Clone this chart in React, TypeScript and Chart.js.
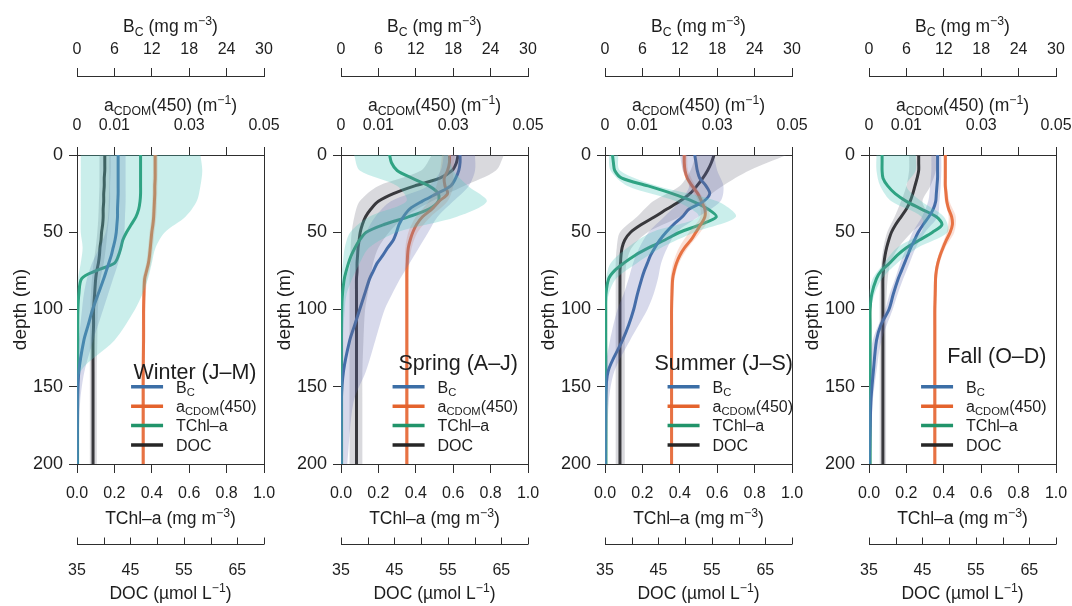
import React, { useEffect, useRef } from 'react';
import { Chart, registerables } from 'chart.js';
Chart.register(...registerables);

// ---------- data ----------
const DEPTH = [0, 5, 10, 15, 20, 25, 30, 35, 40, 45, 50, 55, 60, 65, 70, 75, 80, 90, 100, 110, 120, 140, 160, 200];
const BAND_DEPTH = [0, 10, 20, 30, 40, 50, 60, 70, 80, 90, 100, 120, 140, 160, 200];

const SEASONS = ['Winter (J–M)', 'Spring (A–J)', 'Summer (J–S)', 'Fall (O–D)'];

const DEPTH_TICKS = [0, 50, 100, 150, 200];
const BC_TICKS = [0, 6, 12, 18, 24, 30];
const ACDOM_TICKS = [0, 0.01, 0.02, 0.03, 0.04, 0.05];
const ACDOM_TICK_LABELS = ['0', '0.01', '', '0.03', '', '0.05'];
const TCHL_TICKS = [0, 0.2, 0.4, 0.6, 0.8, 1.0];
const TCHL_TICK_LABELS = ['0.0', '0.2', '0.4', '0.6', '0.8', '1.0'];
const DOC_TICKS = [35, 40, 45, 50, 55, 60, 65, 70];
const DOC_TICK_LABELS = ['35', '', '45', '', '55', '', '65', ''];

// Winter
const WINTER_BC = [6.6, 6.6, 6.6, 6.6, 6.6, 6.6, 6.55, 6.5, 6.5, 6.4, 6.3, 6.1, 5.8, 5.5, 5.1, 4.7, 4.3, 3.4, 2.5, 1.8, 1.1, 0.3, 0.1, 0.05];
const WINTER_ACDOM = [0.0209, 0.0209, 0.0209, 0.0209, 0.0208, 0.0208, 0.0207, 0.0206, 0.0205, 0.0203, 0.02, 0.0198, 0.0196, 0.0194, 0.0191, 0.0186, 0.0181, 0.0179, 0.0178, 0.0178, 0.0178, 0.0177, 0.0177, 0.0177];
const WINTER_TCHL = [0.34, 0.34, 0.34, 0.34, 0.34, 0.34, 0.337, 0.33, 0.315, 0.29, 0.265, 0.245, 0.235, 0.222, 0.2, 0.1, 0.025, 0.01, 0.005, 0.004, 0.004, 0.003, 0.003, 0.003];
const WINTER_DOC = [40.2, 40.2, 40.2, 40.1, 40.1, 40.0, 40.0, 39.9, 39.9, 39.8, 39.6, 39.5, 39.3, 39.2, 39.0, 38.7, 38.5, 38.3, 38.1, 38.1, 38.0, 38.0, 38.0, 38.0];
const WINTER_BC_LO = [5.2, 5.2, 5.2, 5.1, 5.0, 4.6, 3.6, 2.4, 1.6, 1.1, 0.8, 0.3, 0.05, 0, 0];
const WINTER_BC_HI = [7.8, 7.8, 7.8, 7.8, 7.7, 7.6, 7.2, 6.6, 5.8, 5.0, 4.2, 2.6, 1.2, 0.5, 0.2];
const WINTER_ACDOM_LO = [0.0203, 0.0203, 0.0202, 0.0201, 0.0199, 0.0194, 0.019, 0.0185, 0.0175, 0.0174, 0.0174, 0.0173, 0.0173, 0.0173, 0.0173];
const WINTER_ACDOM_HI = [0.0216, 0.0216, 0.0215, 0.0214, 0.0212, 0.0207, 0.0203, 0.0198, 0.0188, 0.0184, 0.0183, 0.0182, 0.0181, 0.0181, 0.0181];
const WINTER_TCHL_LO = [0.02, 0.02, 0.02, 0.02, 0.02, 0.02, 0.03, 0.02, 0.005, 0, 0, 0, 0, 0, 0];
const WINTER_TCHL_HI = [0.66, 0.67, 0.66, 0.64, 0.58, 0.47, 0.42, 0.4, 0.38, 0.35, 0.31, 0.2, 0.02, 0.01, 0.01];
const WINTER_DOC_LO = [39.2, 39.2, 39.2, 39.1, 39.0, 38.8, 38.5, 38.1, 37.8, 37.6, 37.5, 37.4, 37.4, 37.4, 37.4];
const WINTER_DOC_HI = [41.3, 41.3, 41.2, 41.2, 41.0, 40.7, 40.4, 40.0, 39.4, 39.1, 38.9, 38.8, 38.7, 38.7, 38.7];

// Spring
const SPRING_BC = [19.1, 19.1, 18.9, 18.4, 17.6, 15.4, 13.0, 11.0, 10.0, 9.3, 8.9, 8.4, 7.5, 6.7, 5.8, 5.2, 4.6, 3.8, 3.0, 2.2, 1.4, 0.4, 0.05, 0.02];
const SPRING_ACDOM = [0.029, 0.029, 0.0285, 0.0276, 0.0278, 0.0285, 0.0262, 0.0243, 0.0218, 0.0202, 0.0192, 0.0185, 0.018, 0.0178, 0.0177, 0.0176, 0.0176, 0.0176, 0.0176, 0.0176, 0.0176, 0.0176, 0.0176, 0.0176];
const SPRING_TCHL = [0.26, 0.27, 0.3, 0.38, 0.47, 0.52, 0.52, 0.47, 0.36, 0.23, 0.135, 0.1, 0.075, 0.055, 0.04, 0.028, 0.018, 0.008, 0.004, 0.003, 0.003, 0.003, 0.003, 0.003];
const SPRING_DOC = [56.9, 56.6, 55.8, 53.5, 48.8, 44.8, 42.0, 40.6, 39.6, 39.0, 38.6, 38.4, 38.2, 38.1, 38.0, 38.0, 37.9, 37.9, 37.9, 37.9, 37.9, 37.9, 37.9, 37.9];
const SPRING_BC_LO = [16.5, 16.0, 14.0, 8.0, 5.5, 4.0, 2.5, 1.5, 0.8, 0.5, 0.3, 0.1, 0, 0, 0];
const SPRING_BC_HI = [21.5, 21.5, 20.5, 18.0, 15.5, 14.0, 12.5, 11.0, 9.5, 8.2, 7.0, 5.5, 4.0, 2.0, 1.0];
const SPRING_ACDOM_LO = [0.027, 0.0265, 0.0255, 0.0235, 0.02, 0.018, 0.0172, 0.0171, 0.0171, 0.0171, 0.0171, 0.0171, 0.0171, 0.0171, 0.0171];
const SPRING_ACDOM_HI = [0.0305, 0.03, 0.03, 0.0285, 0.024, 0.0205, 0.0189, 0.0183, 0.0181, 0.0181, 0.0181, 0.0181, 0.0181, 0.0181, 0.0181];
const SPRING_TCHL_LO = [0.07, 0.1, 0.3, 0.35, 0.15, 0.05, 0.02, 0.01, 0, 0, 0, 0, 0, 0, 0];
const SPRING_TCHL_HI = [0.58, 0.6, 0.68, 0.78, 0.62, 0.3, 0.15, 0.1, 0.06, 0.03, 0.02, 0.01, 0.01, 0.01, 0.01];
const SPRING_DOC_LO = [52.0, 50.0, 42.0, 38.5, 37.5, 37.0, 36.8, 36.7, 36.6, 36.6, 36.6, 36.6, 36.6, 36.6, 36.6];
const SPRING_DOC_HI = [65.5, 64.0, 58.0, 52.0, 47.0, 44.0, 42.0, 41.0, 40.5, 40.0, 39.5, 39.2, 39.0, 39.0, 39.0];

// Summer
const SUMMER_BC = [14.4, 14.6, 14.8, 15.2, 16.2, 16.8, 15.8, 13.5, 12.4, 11.0, 9.8, 8.8, 8.0, 7.3, 6.8, 6.3, 5.9, 5.2, 4.6, 3.8, 2.8, 0.5, 0.1, 0.05];
const SUMMER_ACDOM = [0.0212, 0.0212, 0.0214, 0.022, 0.0233, 0.0248, 0.0258, 0.0267, 0.0267, 0.0256, 0.0243, 0.023, 0.0213, 0.02, 0.0191, 0.0185, 0.0181, 0.0179, 0.0178, 0.0178, 0.0178, 0.0178, 0.0178, 0.0178];
const SUMMER_TCHL = [0.04, 0.045, 0.052, 0.09, 0.23, 0.36, 0.47, 0.55, 0.595, 0.51, 0.4, 0.32, 0.235, 0.16, 0.1, 0.05, 0.02, 0.005, 0.004, 0.004, 0.004, 0.005, 0.005, 0.005];
const SUMMER_DOC = [55.4, 54.9, 54.2, 53.3, 52.2, 50.9, 49.0, 46.6, 44.3, 41.8, 39.8, 38.7, 38.2, 38.0, 37.9, 37.8, 37.8, 37.8, 37.8, 37.8, 37.8, 37.8, 37.8, 37.8];
const SUMMER_BC_LO = [12.0, 12.5, 13.5, 12.0, 9.5, 7.0, 5.5, 4.5, 3.8, 3.0, 2.0, 0.8, 0, 0, 0];
const SUMMER_BC_HI = [17.5, 18.0, 19.0, 18.5, 15.0, 11.5, 10.0, 9.0, 8.5, 7.8, 6.8, 4.0, 1.5, 0.6, 0.3];
const SUMMER_ACDOM_LO = [0.0205, 0.0208, 0.0225, 0.025, 0.0255, 0.0225, 0.0198, 0.0182, 0.0175, 0.0174, 0.0174, 0.0174, 0.0174, 0.0174, 0.0174];
const SUMMER_ACDOM_HI = [0.022, 0.0222, 0.0242, 0.0267, 0.028, 0.0255, 0.0222, 0.0198, 0.0186, 0.0183, 0.0182, 0.0182, 0.0182, 0.0182, 0.0182];
const SUMMER_TCHL_LO = [0.02, 0.03, 0.12, 0.38, 0.5, 0.25, 0.12, 0.03, 0.005, 0, 0, 0, 0, 0, 0];
const SUMMER_TCHL_HI = [0.07, 0.08, 0.28, 0.6, 0.7, 0.48, 0.3, 0.17, 0.06, 0.02, 0.01, 0.01, 0.01, 0.01, 0.01];
const SUMMER_DOC_LO = [52.0, 51.0, 49.0, 44.0, 41.0, 37.8, 37.2, 37.0, 37.0, 37.0, 37.0, 37.0, 37.0, 37.0, 37.0];
const SUMMER_DOC_HI = [69.0, 62.0, 57.0, 53.0, 49.0, 43.0, 40.0, 39.0, 38.8, 38.7, 38.7, 38.7, 38.7, 38.7, 38.7];

// Fall
const FALL_BC = [11.0, 11.0, 11.0, 11.0, 10.9, 10.8, 10.7, 10.3, 9.6, 8.7, 7.9, 7.3, 6.7, 6.2, 5.7, 5.2, 4.7, 3.9, 3.2, 1.9, 1.2, 0.7, 0.3, 0.05];
const FALL_ACDOM = [0.0204, 0.0204, 0.0204, 0.0204, 0.0204, 0.0206, 0.0208, 0.0213, 0.0221, 0.0223, 0.0217, 0.0207, 0.0198, 0.019, 0.0184, 0.018, 0.0178, 0.0177, 0.0176, 0.0176, 0.0176, 0.0176, 0.0176, 0.0176];
const FALL_TCHL = [0.07, 0.07, 0.07, 0.075, 0.1, 0.14, 0.2, 0.28, 0.36, 0.39, 0.34, 0.27, 0.2, 0.15, 0.11, 0.065, 0.04, 0.015, 0.006, 0.006, 0.006, 0.006, 0.006, 0.006];
const FALL_DOC = [44.3, 44.3, 44.3, 44.0, 43.6, 43.2, 42.7, 42.0, 41.0, 40.0, 39.2, 38.7, 38.3, 38.0, 37.8, 37.7, 37.6, 37.6, 37.6, 37.6, 37.6, 37.6, 37.6, 37.6];
const FALL_BC_LO = [10.0, 10.0, 9.8, 9.5, 8.5, 7.0, 6.0, 5.0, 4.2, 3.3, 2.6, 0.6, 0.2, 0, 0];
const FALL_BC_HI = [11.6, 11.6, 11.5, 11.3, 11.0, 9.0, 7.5, 6.5, 5.5, 4.6, 3.8, 2.0, 1.2, 0.6, 0.2];
const FALL_ACDOM_LO = [0.02, 0.02, 0.02, 0.0203, 0.0213, 0.0208, 0.0192, 0.018, 0.0174, 0.0173, 0.0173, 0.0173, 0.0173, 0.0173, 0.0173];
const FALL_ACDOM_HI = [0.0208, 0.0208, 0.0209, 0.0215, 0.0232, 0.0228, 0.0204, 0.0189, 0.0182, 0.018, 0.018, 0.018, 0.018, 0.018, 0.018];
const FALL_TCHL_LO = [0.04, 0.04, 0.06, 0.12, 0.28, 0.28, 0.15, 0.08, 0.02, 0, 0, 0, 0, 0, 0];
const FALL_TCHL_HI = [0.25, 0.25, 0.2, 0.28, 0.4, 0.42, 0.26, 0.15, 0.07, 0.03, 0.01, 0.01, 0.01, 0.01, 0.01];
const FALL_DOC_LO = [42.5, 42.5, 42.0, 41.0, 39.8, 38.4, 37.7, 37.3, 37.1, 37.0, 37.0, 37.0, 37.0, 37.0, 37.0];
const FALL_DOC_HI = [47.5, 47.5, 46.5, 45.0, 46.0, 43.0, 40.5, 39.0, 38.5, 38.3, 38.2, 38.2, 38.2, 38.2, 38.2];

// ---------- styling / layout ----------
const FONT = "'Liberation Sans', Arial, Helvetica, sans-serif";
const TXT = '#1e1e1e';
const AX = '#2e2e2e';
const COL = { bc: '#3b6ea6', ac: '#e4632d', tc: '#21946a', doc: '#262626' };
const BAND = {
  bc: 'rgba(100,108,178,0.26)',
  ac: 'rgba(240,150,120,0.30)',
  tc: 'rgba(80,200,190,0.30)',
  doc: 'rgba(110,110,125,0.26)',
};
const PANEL_PITCH = 264;
const CANVAS_W = 280;
const CANVAS_H = 606;
const LEGEND_RIGHT = [-7.5, -10, 1, -9.5];
const LABEL_BASELINE = [-85, -94, -94, -101];

type Panel = {
  bc: number[]; ac: number[]; tc: number[]; doc: number[];
  bcLo: number[]; bcHi: number[]; acLo: number[]; acHi: number[];
  tcLo: number[]; tcHi: number[]; docLo: number[]; docHi: number[];
};

const PANELS: Panel[] = [
  { bc: WINTER_BC, ac: WINTER_ACDOM, tc: WINTER_TCHL, doc: WINTER_DOC, bcLo: WINTER_BC_LO, bcHi: WINTER_BC_HI, acLo: WINTER_ACDOM_LO, acHi: WINTER_ACDOM_HI, tcLo: WINTER_TCHL_LO, tcHi: WINTER_TCHL_HI, docLo: WINTER_DOC_LO, docHi: WINTER_DOC_HI },
  { bc: SPRING_BC, ac: SPRING_ACDOM, tc: SPRING_TCHL, doc: SPRING_DOC, bcLo: SPRING_BC_LO, bcHi: SPRING_BC_HI, acLo: SPRING_ACDOM_LO, acHi: SPRING_ACDOM_HI, tcLo: SPRING_TCHL_LO, tcHi: SPRING_TCHL_HI, docLo: SPRING_DOC_LO, docHi: SPRING_DOC_HI },
  { bc: SUMMER_BC, ac: SUMMER_ACDOM, tc: SUMMER_TCHL, doc: SUMMER_DOC, bcLo: SUMMER_BC_LO, bcHi: SUMMER_BC_HI, acLo: SUMMER_ACDOM_LO, acHi: SUMMER_ACDOM_HI, tcLo: SUMMER_TCHL_LO, tcHi: SUMMER_TCHL_HI, docLo: SUMMER_DOC_LO, docHi: SUMMER_DOC_HI },
  { bc: FALL_BC, ac: FALL_ACDOM, tc: FALL_TCHL, doc: FALL_DOC, bcLo: FALL_BC_LO, bcHi: FALL_BC_HI, acLo: FALL_ACDOM_LO, acHi: FALL_ACDOM_HI, tcLo: FALL_TCHL_LO, tcHi: FALL_TCHL_HI, docLo: FALL_DOC_LO, docHi: FALL_DOC_HI },
];

type Part = [string, ('sub' | 'sup')?];

function richWidth(ctx: CanvasRenderingContext2D, parts: Part[], size: number) {
  let w = 0;
  for (const [t, m] of parts) {
    ctx.font = `${m ? size * 0.7 : size}px ${FONT}`;
    w += ctx.measureText(t).width;
  }
  return w;
}

function rich(ctx: CanvasRenderingContext2D, parts: Part[], x0: number, baseline: number, size: number, align: 'left' | 'center' | 'right') {
  const w = richWidth(ctx, parts, size);
  let x = align === 'center' ? x0 - w / 2 : align === 'right' ? x0 - w : x0;
  ctx.textAlign = 'left';
  ctx.textBaseline = 'alphabetic';
  ctx.fillStyle = TXT;
  for (const [t, m] of parts) {
    const fs = m ? size * 0.7 : size;
    ctx.font = `${fs}px ${FONT}`;
    const dy = m === 'sub' ? size * 0.22 : m === 'sup' ? -size * 0.42 : 0;
    ctx.fillText(t, x, baseline + dy);
    x += ctx.measureText(t).width;
  }
  return w;
}

function makeDecor(idx: number) {
  return {
    id: 'decor' + idx,
    afterDraw(chart: any) {
      const ctx: CanvasRenderingContext2D = chart.ctx;
      const ca = chart.chartArea;
      ctx.save();
      // right border of the box
      ctx.strokeStyle = AX;
      ctx.lineWidth = 1;
      const rx = Math.round(ca.right) + 0.5;
      ctx.beginPath();
      ctx.moveTo(rx, ca.top);
      ctx.lineTo(rx, ca.bottom);
      ctx.stroke();

      // DOC axis: line with upward ticks
      const sd = chart.scales.xD;
      const yl = Math.round(sd.top + 10) + 0.5;
      ctx.beginPath();
      ctx.moveTo(sd.getPixelForValue(DOC_TICKS[0]), yl);
      ctx.lineTo(sd.getPixelForValue(DOC_TICKS[DOC_TICKS.length - 1]), yl);
      for (const t of sd.ticks) {
        const x = Math.round(sd.getPixelForValue(t.value)) + 0.5;
        ctx.moveTo(x, yl);
        ctx.lineTo(x, yl - 7);
      }
      ctx.stroke();

      // axis titles
      const cx = (ca.left + ca.right) / 2;
      const TS = 17.5;
      rich(ctx, [['B'], ['C', 'sub'], [' (mg m'], ['−3', 'sup'], [')']], cx, chart.scales.xB.top + 32, TS, 'center');
      rich(ctx, [['a'], ['CDOM', 'sub'], ['(450) (m'], ['−1', 'sup'], [')']], cx, chart.scales.xA.top + 35, TS, 'center');
      rich(ctx, [['TChl–a (mg m'], ['−3', 'sup'], [')']], cx, chart.scales.x.top + 60, TS, 'center');
      rich(ctx, [['DOC (µmol L'], ['−1', 'sup'], [')']], cx, sd.top + 65, TS, 'center');

      // legend
      const right = ca.right + LEGEND_RIGHT[idx];
      const LS = 16;
      const entries: { parts: Part[]; color: string }[] = [
        { parts: [['B'], ['C', 'sub']], color: COL.bc },
        { parts: [['a'], ['CDOM', 'sub'], ['(450)']], color: COL.ac },
        { parts: [['TChl–a']], color: COL.tc },
        { parts: [['DOC']], color: COL.doc },
      ];
      const maxW = Math.max(...entries.map((e) => richWidth(ctx, e.parts, LS)));
      const lineLen = 32;
      const gap = 13;
      const left = right - maxW - lineLen - gap;
      entries.forEach((e, k) => {
        const yc = ca.bottom - 19 - 19.4 * (3 - k);
        ctx.strokeStyle = e.color;
        ctx.lineWidth = 3.5;
        ctx.lineCap = 'butt';
        ctx.beginPath();
        ctx.moveTo(left, yc);
        ctx.lineTo(left + lineLen, yc);
        ctx.stroke();
        rich(ctx, e.parts, left + lineLen + gap, yc + 5.7, LS, 'left');
      });
      // panel label
      rich(ctx, [[SEASONS[idx]]], right, ca.bottom + LABEL_BASELINE[idx], 21.5, 'right');
      ctx.restore();
    },
  };
}

function buildConfig(idx: number): any {
  const p = PANELS[idx];
  const bandSpecs = [
    { lo: p.tcLo, hi: p.tcHi, axis: 'x', color: BAND.tc },
    { lo: p.bcLo, hi: p.bcHi, axis: 'xB', color: BAND.bc },
    { lo: p.docLo, hi: p.docHi, axis: 'xD', color: BAND.doc },
    { lo: p.acLo, hi: p.acHi, axis: 'xA', color: BAND.ac },
  ];
  const lineSpecs = [
    { v: p.bc, axis: 'xB', color: COL.bc },
    { v: p.ac, axis: 'xA', color: COL.ac },
    { v: p.tc, axis: 'x', color: COL.tc },
    { v: p.doc, axis: 'xD', color: COL.doc },
  ];
  const datasets: any[] = [];
  for (const b of bandSpecs) {
    datasets.push({
      data: BAND_DEPTH.map((d, i) => ({ x: b.lo[i], y: d })),
      xAxisID: b.axis, yAxisID: 'y', borderWidth: 0, borderColor: 'rgba(0,0,0,0)',
      pointRadius: 0, fill: false, tension: 0.3,
    });
    datasets.push({
      data: BAND_DEPTH.map((d, i) => ({ x: b.hi[i], y: d })),
      xAxisID: b.axis, yAxisID: 'y', borderWidth: 0, borderColor: 'rgba(0,0,0,0)',
      pointRadius: 0, fill: '-1', backgroundColor: b.color, tension: 0.3,
    });
  }
  for (const l of lineSpecs) {
    datasets.push({
      data: DEPTH.map((d, i) => ({ x: l.v[i], y: d })),
      xAxisID: l.axis, yAxisID: 'y', borderWidth: 3, borderColor: l.color,
      pointRadius: 0, fill: false, tension: 0.3,
      borderCapStyle: 'round', borderJoinStyle: 'round',
    });
  }

  const tickFont = { size: 16, family: FONT };
  const hx = (ticks: number[], labels: string[] | null) => ({
    afterBuildTicks: (s: any) => { s.ticks = ticks.map((v) => ({ value: v })); },
    ticks: {
      font: tickFont, color: TXT, maxRotation: 0, minRotation: 0, autoSkip: false,
      callback: (v: number, i: number) => (labels ? labels[i] : String(v)),
    },
  });

  return {
    type: 'line',
    data: { datasets },
    plugins: [makeDecor(idx)],
    options: {
      responsive: false,
      animation: false,
      events: [],
      indexAxis: 'y',
      layout: { padding: { left: 0, right: CANVAS_W - 264, top: 0, bottom: 0 }, autoPadding: false },
      plugins: { legend: { display: false }, tooltip: { enabled: false } },
      scales: {
        y: {
          type: 'linear', axis: 'y', position: 'left', reverse: true, min: 0, max: 200,
          afterBuildTicks: (s: any) => { s.ticks = DEPTH_TICKS.map((v) => ({ value: v })); },
          ticks: { font: { size: 18, family: FONT }, color: TXT, padding: 6, autoSkip: false },
          grid: { drawOnChartArea: false, tickLength: 8, color: AX },
          border: { display: true, color: AX },
          title: { display: true, text: 'depth (m)', font: { size: 19, family: FONT }, color: TXT, padding: { top: 9, bottom: 0 } },
          afterFit: (s: any) => { s.width = 77; s.paddingTop = 0; s.paddingBottom = 0; },
        },
        xB: {
          type: 'linear', axis: 'x', position: 'top', min: 0, max: 30, weight: 2,
          ...hx(BC_TICKS, null),
          ticks: { ...hx(BC_TICKS, null).ticks, padding: 9 },
          grid: { drawOnChartArea: false, tickLength: 8, color: AX },
          border: { display: true, color: AX },
          afterFit: (s: any) => { s.height = 76; s.paddingLeft = 0; s.paddingRight = 0; },
        },
        xA: {
          type: 'linear', axis: 'x', position: 'top', min: 0, max: 0.05, weight: 1,
          ...hx(ACDOM_TICKS, ACDOM_TICK_LABELS),
          ticks: { ...hx(ACDOM_TICKS, ACDOM_TICK_LABELS).ticks, padding: 12 },
          grid: { drawOnChartArea: false, tickLength: 8, color: AX },
          border: { display: true, color: AX },
          afterFit: (s: any) => { s.height = 79; s.paddingLeft = 0; s.paddingRight = 0; },
        },
        x: {
          type: 'linear', axis: 'x', position: 'bottom', min: 0, max: 1, weight: 1,
          ...hx(TCHL_TICKS, TCHL_TICK_LABELS),
          ticks: { ...hx(TCHL_TICKS, TCHL_TICK_LABELS).ticks, padding: 11 },
          grid: { drawOnChartArea: false, tickLength: 9, color: AX },
          border: { display: true, color: AX },
          afterFit: (s: any) => { s.height = 70; s.paddingLeft = 0; s.paddingRight = 0; },
        },
        xD: {
          type: 'linear', axis: 'x', position: 'bottom', min: 35, max: 70, weight: 2,
          ...hx(DOC_TICKS, DOC_TICK_LABELS),
          ticks: { ...hx(DOC_TICKS, DOC_TICK_LABELS).ticks, padding: 27 },
          grid: { display: false, drawTicks: false, drawOnChartArea: false },
          border: { display: false },
          afterFit: (s: any) => { s.height = 72; s.paddingLeft = 0; s.paddingRight = 0; },
        },
      },
    },
  };
}

function PanelChart({ idx }: { idx: number }) {
  const ref = useRef<HTMLCanvasElement>(null);
  useEffect(() => {
    const chart = new Chart(ref.current as HTMLCanvasElement, buildConfig(idx));
    return () => chart.destroy();
  }, [idx]);
  return (
    <canvas
      ref={ref}
      width={CANVAS_W}
      height={CANVAS_H}
      style={{ position: 'absolute', left: idx * PANEL_PITCH, top: 0, width: CANVAS_W, height: CANVAS_H }}
    />
  );
}

export default function App() {
  return (
    <div style={{ position: 'fixed', left: 0, top: 0, width: 1072, height: 606, background: '#ffffff', overflow: 'hidden' }}>
      {SEASONS.map((_, i) => (
        <PanelChart key={i} idx={i} />
      ))}
    </div>
  );
}
